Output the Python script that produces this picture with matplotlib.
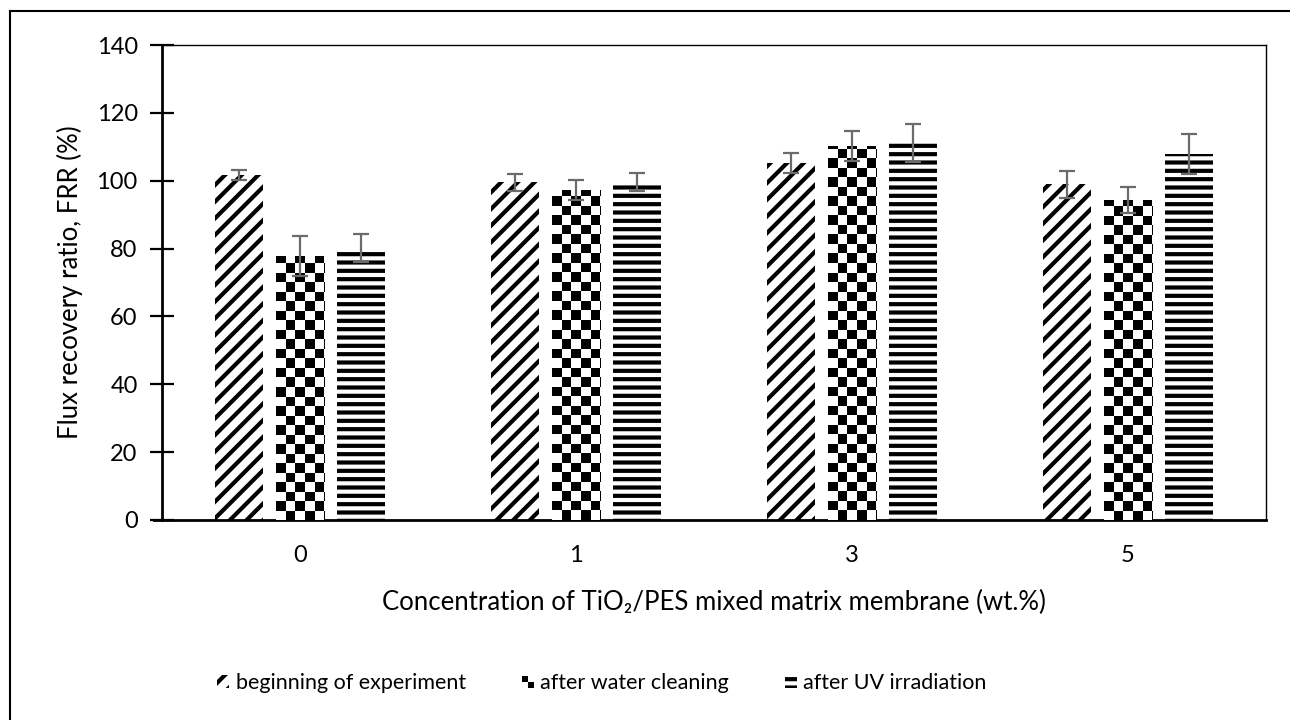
import numpy as np
import matplotlib
matplotlib.use("Agg")
import matplotlib.pyplot as plt
from matplotlib.patches import Patch, Rectangle
from matplotlib.lines import Line2D
from matplotlib.legend_handler import HandlerBase

# data
categories = ["0", "1", "3", "5"]
series_names = ["beginning of experiment", "after water cleaning", "after UV irradiation"]
beginning = [101.7, 99.5, 105.3, 99.0]
water_cleaning = [77.8, 97.3, 110.3, 94.3]
uv_irradiation = [80.2, 99.6, 111.0, 108.0]
beginning_err = [1.6, 2.4, 3.0, 4.0]
water_err = [6.0, 3.0, 4.5, 3.8]
uv_err = [4.2, 2.6, 5.6, 5.9]

plt.rcParams["font.family"] = ["Lato", "DejaVu Sans"]
plt.rcParams["hatch.linewidth"] = 3.0

fig = plt.figure(figsize=(12.9, 7.2), dpi=100)
ax = fig.add_axes([162 / 1290, 1 - 520 / 720, 1104 / 1290, 475 / 720])

x = np.arange(len(categories))
offset = 0.221
width = 0.174
err_kw = dict(fmt="none", ecolor="#6b6b6b", elinewidth=1.6, capsize=6, capthick=1.6, zorder=5)

b1 = ax.bar(x - offset, beginning, width, facecolor="white", edgecolor="black",
            linewidth=0, hatch="//", zorder=2)
b2 = ax.bar(x, water_cleaning, width, facecolor="white", edgecolor="black",
            linewidth=0, zorder=2)
b3 = ax.bar(x + offset, uv_irradiation, width, facecolor="white", edgecolor="black",
            linewidth=0, hatch="--", zorder=2)

# checkerboard fill for the water cleaning bars (no built-in hatch for it)
cell_px = 9.5
dx = cell_px / (1104 / len(categories))
dy = cell_px / (475 / 140)
for bar in b2:
    x0 = bar.get_x()
    h = bar.get_height()
    ncol = int(np.ceil(bar.get_width() / dx))
    nrow = int(np.ceil(h / dy))
    board = (np.add.outer(np.arange(nrow), np.arange(ncol)) % 2).astype(float)
    im = ax.imshow(board, cmap="gray_r", vmin=0, vmax=1, interpolation="nearest",
                   origin="lower", extent=(x0, x0 + ncol * dx, 0, nrow * dy),
                   aspect="auto", zorder=3)
    im.set_clip_path(bar)

ax.set_xlim(-0.5, len(categories) - 0.5)
ax.set_ylim(0, 140)

ax.errorbar(x - offset, beginning, yerr=beginning_err, **err_kw)
ax.errorbar(x, water_cleaning, yerr=water_err, **err_kw)
ax.errorbar(x + offset, uv_irradiation, yerr=uv_err, **err_kw)

ax.set_xticks(x)
ax.set_xticklabels(categories)
ax.set_yticks(np.arange(0, 141, 20))
ax.tick_params(axis="y", direction="inout", length=17, width=1.6, labelsize=17, pad=9)
ax.tick_params(axis="x", length=0, labelsize=17, pad=18)

for side in ["left", "bottom"]:
    ax.spines[side].set_linewidth(2)
for side in ["top", "right"]:
    ax.spines[side].set_linewidth(1)
ax.spines["bottom"].set_bounds(-0.5 - 8 / 276, len(categories) - 0.5)

ax.set_ylabel("Flux recovery ratio, FRR (%)", fontsize=18.5, labelpad=10)
ax.set_xlabel("Concentration of TiO\u2082/PES mixed matrix membrane (wt.%)", fontsize=18.5, labelpad=17)


class CheckerHandler(HandlerBase):
    def create_artists(self, legend, orig_handle, xdescent, ydescent, width, height, fontsize, trans):
        s = min(width, height) / 2
        x0 = -xdescent + (width - 2 * s) / 2
        y0 = -ydescent
        arts = []
        for i in range(2):
            for j in range(2):
                color = "black" if (i + j) % 2 == 1 else "white"
                r = Rectangle((x0 + i * s, y0 + j * s), s, s, facecolor=color,
                              edgecolor="none", transform=trans)
                arts.append(r)
        return arts


h1 = Patch(facecolor="white", edgecolor="black", linewidth=0, hatch="//")
h2 = Patch(facecolor="white", edgecolor="black")
h3 = Patch(facecolor="white", edgecolor="black", linewidth=0, hatch="--")
fig.legend([h1, h2, h3], series_names, loc="center", bbox_to_anchor=(602 / 1290, 1 - 683 / 720),
           ncol=3, frameon=False, fontsize=15.5, handlelength=0.55, handleheight=0.55,
           handletextpad=0.3, columnspacing=2.6, handler_map={h2: CheckerHandler()})

# chart-area border (only left and top edges survive in the crop)
fig.add_artist(Line2D([10 / 1290, 10 / 1290], [0, 1 - 11 / 720], transform=fig.transFigure,
                      color="black", linewidth=1.5))
fig.add_artist(Line2D([10 / 1290, 1], [1 - 11 / 720, 1 - 11 / 720], transform=fig.transFigure,
                      color="black", linewidth=1.5))

fig.savefig("out.png", dpi=100)
